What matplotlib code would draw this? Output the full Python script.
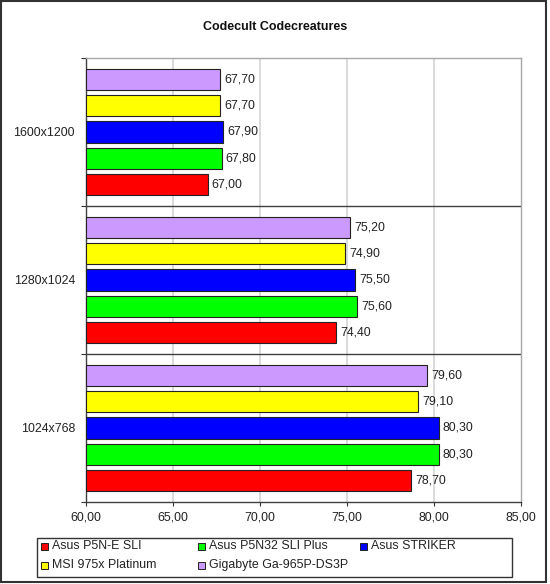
import numpy as np
import matplotlib
matplotlib.use("Agg")
import matplotlib.pyplot as plt
from matplotlib.patches import Rectangle

plt.rcParams['font.family'] = ['Liberation Sans', 'DejaVu Sans']

# dados
resolucoes = ['1024x768', '1280x1024', '1600x1200']
placas = ['Asus P5N-E SLI', 'Asus P5N32 SLI Plus', 'Asus STRIKER',
          'MSI 975x Platinum', 'Gigabyte Ga-965P-DS3P']
cores = ['#FF0000', '#00FF00', '#0000FF', '#FFFF00', '#CC99FF']
p5n_e_sli = [78.70, 74.40, 67.00]
p5n32_sli_plus = [80.30, 75.60, 67.80]
striker = [80.30, 75.50, 67.90]
msi_975x = [79.10, 74.90, 67.70]
gigabyte_965p = [79.60, 75.20, 67.70]
valores = [p5n_e_sli, p5n32_sli_plus, striker, msi_975x, gigabyte_965p]
x_ticks = [60, 65, 70, 75, 80, 85]

W, H = 550, 584
fig = plt.figure(figsize=(W / 100, H / 100), dpi=100)

def fx(px):
    return px / W

def fy(py):
    return 1 - py / H

ax = fig.add_axes([fx(86), fy(502), fx(520.5) - fx(86), fy(58) - fy(502)])

# barras (Asus P5N-E SLI em baixo, Gigabyte em cima)
centros = np.arange(len(resolucoes)) + 0.5
altura = 0.145
passo = 0.178
for i, (nome, cor, vals) in enumerate(zip(placas, cores, valores)):
    bars = ax.barh(centros + (i - 2) * passo, np.array(vals) - 60, left=60,
                   height=altura, color=cor, edgecolor='#222222', linewidth=0.8,
                   zorder=3)
    ax.bar_label(bars, labels=[f"{v:.2f}".replace('.', ',') for v in vals],
                 padding=3, fontsize=8.9, color='#222222')

ax.set_xlim(60, 85)
ax.set_ylim(0, 3)
ax.set_xticks(x_ticks)
ax.set_xticklabels([f"{v:.2f}".replace('.', ',') for v in x_ticks], fontsize=8.9,
                   color='#222222')
ax.tick_params(axis='x', direction='out', length=3, width=0.8, color='#333333', pad=4)

ax.set_yticks([0, 1, 2, 3])
ax.set_yticklabels([])
ax.tick_params(axis='y', which='major', direction='out', length=3.5, width=0.8,
               color='#333333')
ax.set_yticks(centros, minor=True)
ax.set_yticklabels(resolucoes, minor=True, fontsize=8.9, color='#222222')
ax.tick_params(axis='y', which='minor', length=0, pad=8)

# grelha e separadores
for v in x_ticks[1:-1]:
    ax.axvline(v, color='#d4d4d4', linewidth=1.2, zorder=1)
for s in [1, 2]:
    ax.axhline(s, color='#404040', linewidth=1.0, zorder=2)

for lado in ['top', 'right']:
    ax.spines[lado].set_color('#a8a8a8')
    ax.spines[lado].set_linewidth(1.0)
for lado in ['left', 'bottom']:
    ax.spines[lado].set_color('#404040')
    ax.spines[lado].set_linewidth(1.0)

fig.text(fx(275), fy(27), 'Codecult Codecreatures', ha='center', va='center',
         fontsize=9, fontweight='bold', color='#111111')

# legenda manual (colunas de largura igual, como no Excel)
fig.patches.append(Rectangle((fx(37), fy(577)), fx(512) - fx(37), fy(538) - fy(577),
                             transform=fig.transFigure, fill=False,
                             edgecolor='#333333', linewidth=1.0))
col_x = [41, 198, 360]
lin_y = [546, 565]
for k, (nome, cor) in enumerate(zip(placas, cores)):
    cx = col_x[k % 3]
    cy = lin_y[k // 3]
    fig.patches.append(Rectangle((fx(cx), fy(cy + 3.5)), fx(7), 7 / H,
                                 transform=fig.transFigure, facecolor=cor,
                                 edgecolor='#222222', linewidth=0.7))
    fig.text(fx(cx + 11), fy(cy), nome, ha='left', va='center', fontsize=8.9,
             color='#222222')

# moldura exterior
fig.patches.append(Rectangle((fx(1), fy(582)), fx(546) - fx(1), fy(1) - fy(582),
                             transform=fig.transFigure, fill=False,
                             edgecolor='#333333', linewidth=1.5))

fig.savefig('out.png', dpi=100)
